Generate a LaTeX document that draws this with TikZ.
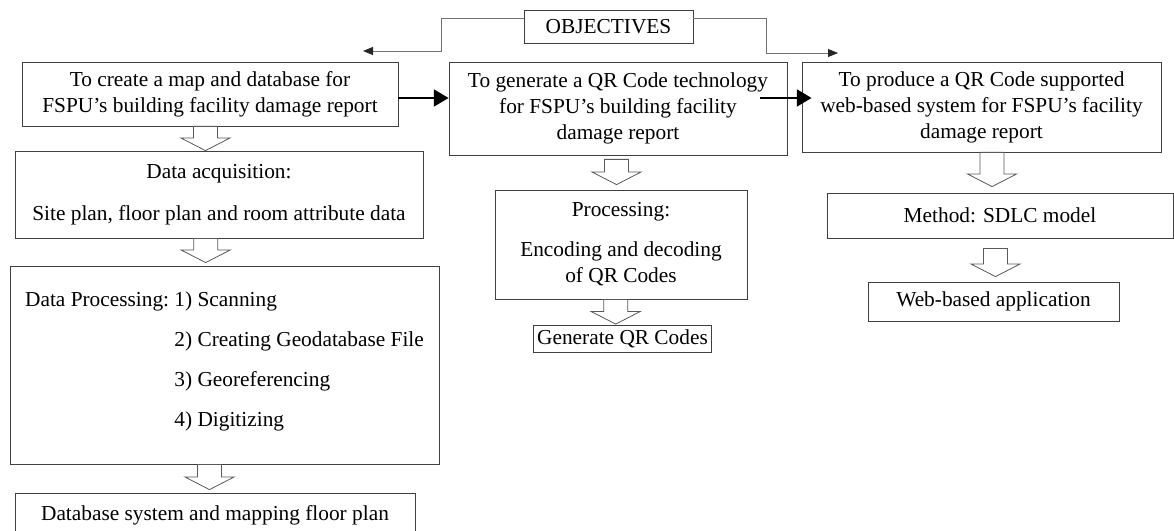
\documentclass[tikz,border=0pt]{standalone}
\usepackage{fontspec}
\setmainfont{Liberation Serif}
\usetikzlibrary{arrows.meta,calc,positioning}

\tikzset{
  box/.style={draw=black!75, line width=0.6pt, align=center, inner sep=0pt,
              font=\fontsize{16}{19.5}\selectfont},
  objline/.style={draw=black!55, line width=0.6pt,
              -{Triangle[length=7.5pt,width=6pt,color=black!85]}},
  boldarrow/.style={line width=1.9pt, -{Triangle[length=11pt,width=12.5pt]}},
  hollow/.style={draw=black!65, line width=0.6pt, fill=white}
}

% outlined block arrow, from #1 down to #2
\newcommand{\fatarrow}[2]{%
  \draw[hollow] let \p1=#1, \p2=#2 in
    (\x1-9pt,\y1) -- (\x1-9pt,\y2+9.5pt) -- (\x1-18.5pt,\y2+9.5pt) -- (\x1,\y2)
    -- (\x1+18.5pt,\y2+9.5pt) -- (\x1+9pt,\y2+9.5pt) -- (\x1+9pt,\y1) -- cycle;}

\begin{document}
\begin{tikzpicture}[x=0.75pt, y=-0.75pt]
  \useasboundingbox (0,0) rectangle (1174,531);

  \node [box, minimum width=126.75pt, minimum height=24.75pt] (obj) at (608.5,26.5) {OBJECTIVES};

  % objectives row
  \node [box, minimum width=282pt, minimum height=48pt] (map) at (210,94)
    {To create a map and database for\\FSPU's building facility damage report};
  \node [box, minimum width=253.5pt, minimum height=69.75pt] (qr) at (618,108.5)
    {To generate a QR Code technology\\for FSPU's building facility\\damage report};
  \node [box, minimum width=269.25pt, minimum height=67.5pt] (web) at (981.5,107)
    {To produce a QR Code supported\\web-based system for FSPU's facility\\damage report};

  % left column
  \node [box, minimum width=306pt, minimum height=65.25pt] (acq) at (219,194.5)
    {Data acquisition:\\[12pt]Site plan, floor plan and room attribute data};
  \node [box, minimum width=321.75pt, minimum height=148.5pt] (dproc) at (224.5,365)
    {\begin{tabular}{@{}l@{\ }l@{}}
      Data Processing: & 1) Scanning\\[10.5pt]
       & 2) Creating Geodatabase File\\[10.5pt]
       & 3) Georeferencing\\[10.5pt]
       & 4) Digitizing\\[6pt]
     \end{tabular}};
  \node [box, minimum width=300pt, minimum height=33pt] (dbase) at (215,515)
    {Database system and mapping floor plan};

  % middle column
  \node [box, minimum width=189pt, minimum height=81.75pt] (qrproc) at (621,244.5)
    {Processing:\\[10.5pt]Encoding and decoding\\of QR Codes};
  \node [box, minimum width=133pt, minimum height=20.25pt] (gen) at (622.5,339)
    {Generate QR Codes};

  % right column
  \node [box, minimum width=259.5pt, minimum height=33.75pt] (sdlc) at (1000,215.5)
    {Method: SDLC model};
  \node [box, minimum width=188.25pt, minimum height=29.25pt] (app) at (993.5,301.5)
    {Web-based application};

  % objectives connectors
  \coordinate (ltip) at (363,51);
  \coordinate (rtip) at (838,53);
  \draw [objline] ([yshift=6.4pt]obj.west) -- ++(-82,0) |- (ltip);
  \draw [objline] ([yshift=6.4pt]obj.east) -- ++(73,0) |- (rtip);

  % bold arrows between objectives
  \coordinate (a1) at ([yshift=-3pt]map.east);
  \coordinate (a2) at ([xshift=-20.25pt,yshift=7.9pt]qr.east);
  \draw [boldarrow] (a1) -- (a1 -| qr.west);
  \draw [boldarrow, shorten >=-7.5pt] (a2) -- (a2 -| web.west);

  % block arrows
  \fatarrow{([xshift=-3.4pt]map.south)}{(acq.north)}
  \fatarrow{([xshift=-10pt]acq.south)}{([yshift=2.25pt]dproc.north)}
  \fatarrow{([xshift=-11.25pt]dproc.south)}{([yshift=2.25pt]dbase.north)}
  \fatarrow{([xshift=-1.1pt,yshift=-3pt]qr.south)}{([yshift=3.75pt]qrproc.north)}
  \fatarrow{([xshift=-4pt]qrproc.south)}{([yshift=0.75pt]gen.north)}
  \fatarrow{([xshift=7.9pt]web.south)}{([yshift=4.5pt]sdlc.north)}
  \fatarrow{([xshift=-3.4pt,yshift=-7.5pt]sdlc.south)}{([yshift=3.75pt]app.north)}
\end{tikzpicture}
\end{document}
